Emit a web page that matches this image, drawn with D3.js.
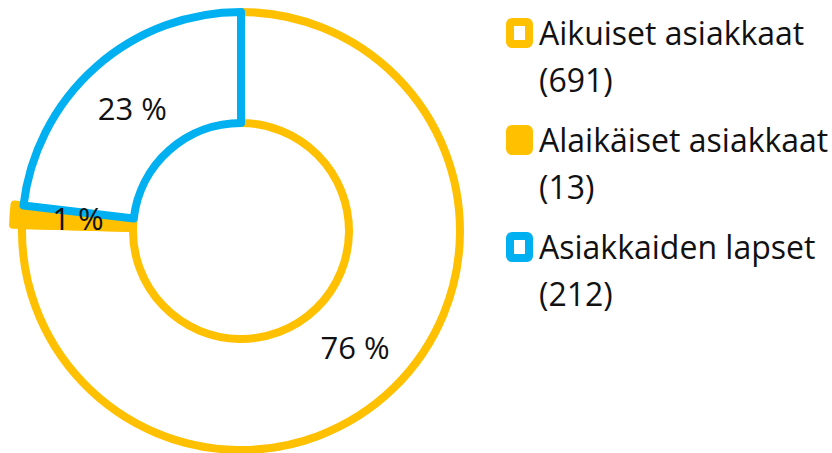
<!DOCTYPE html>
<html>
<head>
<meta charset="utf-8">
<script src="https://cdn.jsdelivr.net/npm/d3@7"></script>
<style>
  html, body { margin: 0; padding: 0; background: #fff; }
  svg { display: block; font-family: "Open Sans", Lato, sans-serif; }
</style>
</head>
<body>
<svg id="chart" width="832" height="453"></svg>
<script>
// values
const categories = ['Aikuiset asiakkaat', 'Alaikäiset asiakkaat', 'Asiakkaiden lapset'];
const counts = [691, 13, 212];
const pctLabels = ['76 %', '1 %', '23 %'];
const colors = ['#FFC000', '#FFC000', '#00B0F0'];
const solid = [false, true, false];

const data = categories.map((c, i) => ({
  name: c, count: counts[i], pct: pctLabels[i], color: colors[i], solid: solid[i]
}));

const svg = d3.select('#chart');
const cx = 241, cy = 231;
const inner = 108, outer = 219;

const pie = d3.pie().sort(null).value(d => d.count);
const arcs = pie(data);

const arc = d3.arc().innerRadius(inner).outerRadius(d => d.data.solid ? outer + 9 : outer);
const labelArc = d3.arc().innerRadius((inner + outer) / 2).outerRadius((inner + outer) / 2);

const g = svg.append('g').attr('transform', `translate(${cx},${cy})`);

g.selectAll('path')
  .data(arcs)
  .join('path')
    .attr('d', arc)
    .attr('fill', d => d.data.solid ? d.data.color : '#fff')
    .attr('stroke', d => d.data.color)
    .attr('stroke-width', 8)
    .attr('stroke-linejoin', 'round');

g.selectAll('text')
  .data(arcs)
  .join('text')
    .attr('transform', d => `translate(${labelArc.centroid(d)})`)
    .attr('text-anchor', 'middle')
    .attr('dy', '0.36em')
    .attr('font-size', 31)
    .attr('fill', '#111')
    .text(d => d.data.pct);

// legend
const legend = svg.append('g').attr('transform', 'translate(506,18)');
const item = legend.selectAll('g')
  .data(data)
  .join('g')
    .attr('transform', (d, i) => `translate(0,${i * 107})`);

item.append('rect')
  .attr('x', 4).attr('y', 4)
  .attr('width', 19).attr('height', 22)
  .attr('rx', 2)
  .attr('fill', d => d.solid ? d.color : '#fff')
  .attr('stroke', d => d.color)
  .attr('stroke-width', 8)
  .attr('stroke-linejoin', 'round');

const txt = item.append('text')
  .attr('font-size', 32)
  .attr('fill', '#111');
txt.append('tspan').attr('x', 33).attr('y', 27).text(d => d.name);
txt.append('tspan').attr('x', 33).attr('y', 74).text(d => `(${d.count})`);
</script>
</body>
</html>
